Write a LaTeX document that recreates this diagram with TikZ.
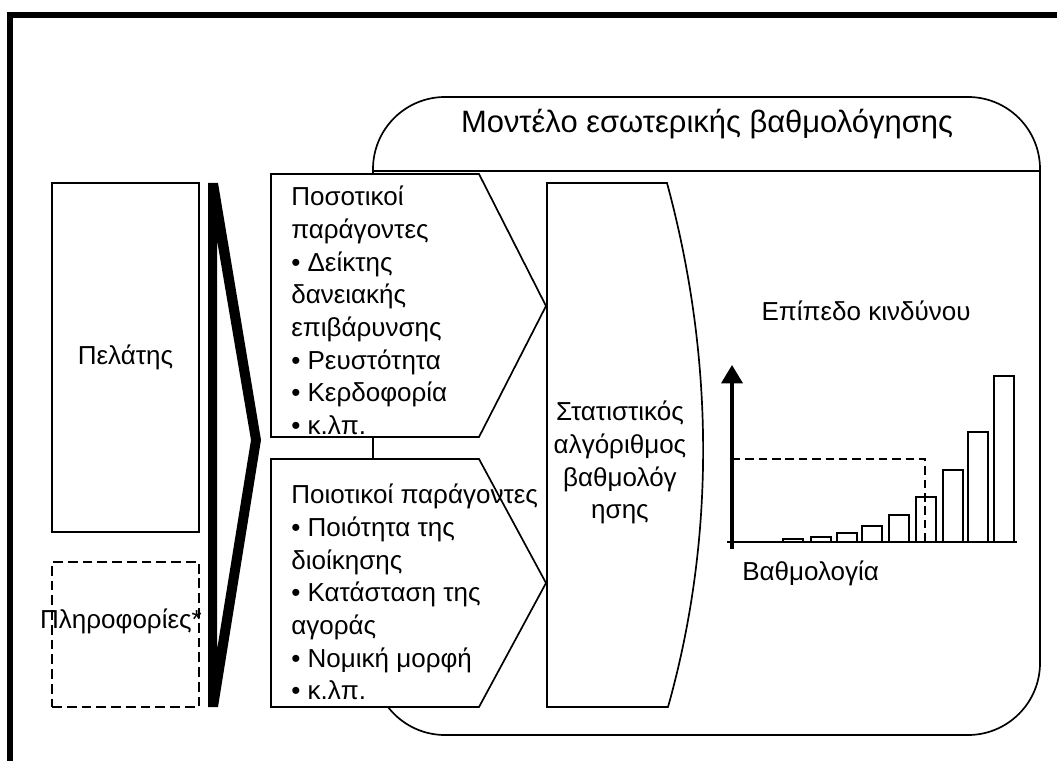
\documentclass[tikz,border=0pt]{standalone}
\usepackage{fontspec}
\setmainfont{Liberation Sans}
\usetikzlibrary{arrows.meta, positioning}

\begin{document}
\begin{tikzpicture}[x=0.025cm, y=-0.025cm,
  font=\fontsize{18.5}{23.2}\selectfont,
  box/.style={draw, line width=1.2pt, fill=white},
  txt/.style={inner sep=0pt, align=left, anchor=north west},
  bar/.style={draw, line width=1.2pt, fill=white},
  axis/.style={line width=2.2pt, -{Triangle[length=13pt, width=15pt]}}]
  \useasboundingbox (0,0) rectangle (1057,761);
  \clip (0,0) rectangle (1057,761);
  % outer frame
  \draw[line width=4.5pt] (10,15) rectangle (1066,764);
  % model frame with title
  \draw[box, rounded corners=1.8cm] (373,97) rectangle (1040,735);
  \draw[line width=1.2pt] (373,171) -- (1040,171);
  \node[anchor=base, font=\fontsize{22}{26}\selectfont] (title) at (707,133) {Μοντέλο εσωτερικής βαθμολόγησης};
  % client and information
  \node[box, minimum width=3.675cm, minimum height=8.725cm] (client) at (125.5,357.5) {Πελάτης};
  \node[box, dash pattern=on 7pt off 3.5pt, minimum width=3.675cm, minimum height=3.625cm] (info) at (125.5,634.5) {};
  \node[anchor=base, inner sep=0pt] (infolbl) at (121,628) {Πληροφορίες*};
  % bracket
  \fill[even odd rule] (208,183) -- (218,183) -- (261,440) -- (218,707) -- (208,707) -- cycle
    (217,240) -- (251,440) -- (217,650) -- cycle;
  % factor boxes
  \draw[box] (271,174) -- (479,174) -- (546,306) -- (479,437) -- (271,437) -- cycle;
  \node[txt] (quant) at (291,186) {Ποσοτικοί\\παράγοντες\\• Δείκτης\\δανειακής\\επιβάρυνσης\\• Ρευστότητα\\• Κερδοφορία\\• κ.λπ.};
  \draw[box] (271,459) -- (479,459) -- (546,583) -- (479,707) -- (271,707) -- cycle;
  \node[txt] (qual) at (291,484) {Ποιοτικοί παράγοντες\\• Ποιότητα της\\διοίκησης\\• Κατάσταση της\\αγοράς\\• Νομική μορφή\\• κ.λπ.};
  % scoring algorithm
  \draw[box] (547,183) -- (667,183) .. controls (715,360) and (715,540) .. (668,707) -- (547,707) -- cycle;
  \node[txt, anchor=north, align=center] (algo) at (620,401) {Στατιστικός\\αλγόριθμος\\βαθμολόγ\\ησης};
  % risk chart
  \coordinate (origin) at (732,542);
  \draw[axis] (732,549) -- (732,365);
  \draw[line width=1.5pt] (727,542) -- (1017,542);
  \foreach \l/\t in {783/539, 811/537, 837/533, 862/526, 889/515, 916/497, 943/470, 968/432, 994/376}
    \draw[bar] (\l,542) rectangle (\l+20,\t);
  \draw[line width=1.3pt, dash pattern=on 6pt off 3.5pt] (origin |- 0,459) -- (925,459) -- (925,546);
  \node[anchor=base] (risk) at (866,320) {Επίπεδο κινδύνου};
  \node[anchor=base west, inner sep=0pt] (score) at (742,580) {Βαθμολογία};
\end{tikzpicture}
\end{document}
